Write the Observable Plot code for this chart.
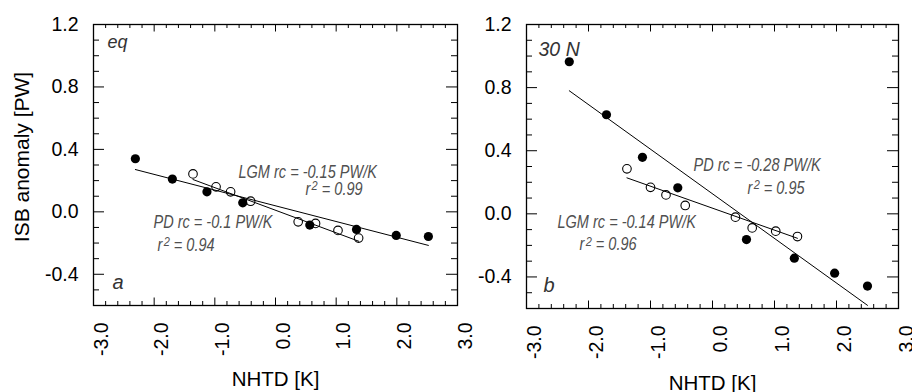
<!DOCTYPE html>
<html><head><meta charset="utf-8">
<script src="https://cdn.jsdelivr.net/npm/d3@7"></script>
<script src="https://cdn.jsdelivr.net/npm/@observablehq/plot@0.6"></script>
<style>
body{margin:0;background:#fff;}
#wrap{position:relative;width:912px;height:392px;overflow:hidden;background:#fff;}
#wrap svg{position:absolute;top:0;overflow:visible;background:transparent !important;}
</style></head><body><div id="wrap"></div>
<script>
// ---- tick values & labels ----
const xTicks = [-3, -2, -1, 0, 1, 2, 3];
const xTickLabels = ["-3.0", "-2.0", "-1.0", "0.0", "1.0", "2.0", "3.0"];
const yTicks = [-0.4, 0.0, 0.4, 0.8, 1.2];
const yTickLabels = ["-0.4", "0.0", "0.4", "0.8", "1.2"];

// ---- panel a: eq ----
const eqPDx  = [-2.31, -1.70, -1.13, -0.54, 0.565, 1.335, 1.99, 2.52];
const eqPDy  = [0.34, 0.21, 0.128, 0.058, -0.085, -0.113, -0.151, -0.158];
const eqLGMx = [-1.36, -0.98, -0.74, -0.41, 0.374, 0.66, 1.03, 1.37];
const eqLGMy = [0.243, 0.16, 0.128, 0.068, -0.064, -0.074, -0.119, -0.168];
const eqPDfitX  = [-2.31, 2.52], eqPDfitY  = [0.271, -0.215];
const eqLGMfitX = [-1.36, 1.37], eqLGMfitY = [0.207, -0.188];

// ---- panel b: 30 N ----
const nPDx  = [-2.31, -1.71, -1.13, -0.56, 0.548, 1.32, 1.97, 2.50];
const nPDy  = [0.964, 0.628, 0.358, 0.165, -0.163, -0.281, -0.376, -0.458];
const nLGMx = [-1.38, -1.00, -0.75, -0.44, 0.37, 0.64, 1.02, 1.37];
const nLGMy = [0.285, 0.168, 0.12, 0.053, -0.021, -0.089, -0.11, -0.144];
const nPDfitX  = [-2.31, 2.50], nPDfitY  = [0.78, -0.58];
const nLGMfitX = [-1.38, 1.37], nLGMfitY = [0.228, -0.155];

const rows = (xs, ys) => xs.map((x, i) => ({x, y: ys[i]}));
const xMinor = d3.range(-3, 3.001, 0.2).map(v => +v.toFixed(2)).filter(v => Math.abs(v - Math.round(v)) > 1e-6);
const yMinor = d3.range(-0.6, 1.2001, 0.1).map(v => +v.toFixed(2)).filter(v => !yTicks.some(t => Math.abs(t - v) < 1e-6));

const SANS = "'Liberation Sans', Arial, sans-serif";

function note(text, x, y, opts = {}) {
  return Plot.text([text], {x, y, text: d => d, textAnchor: "start", lineAnchor: "bottom",
    fontStyle: "italic", fontFamily: SANS, fontSize: 17.5, fill: "#505050", ...opts});
}

function condense(svg) {
  // narrow italic annotation text (condensed oblique look) and real superscripts
  svg.querySelectorAll("g[font-size='17.5'] text").forEach(t => {
    t.setAttribute("transform", (t.getAttribute("transform") || "") + " scale(0.83,1)");
    const s = t.textContent;
    if (s.startsWith("r² ")) {
      t.textContent = "";
      const ns = "http://www.w3.org/2000/svg";
      const a = document.createElementNS(ns, "tspan"); a.textContent = "r";
      const b = document.createElementNS(ns, "tspan"); b.textContent = "2";
      b.setAttribute("dy", "-0.36em"); b.setAttribute("font-size", "0.76em"); b.setAttribute("dx", "0.12em");
      const c = document.createElementNS(ns, "tspan"); c.textContent = " " + s.slice(3);
      c.setAttribute("dy", "0.274em");
      t.append(a, b, c);
    }
  });
}

function panel({left, width, mL, mR, mB, pd, lgm, pdFit, lgmFit, notes, yTitle, titleDy}) {
  const H = 392 - 24 - mB, W = width - mL - mR;
  const marks = [
    Plot.tickX(xMinor, {x: d => d, insetTop: H - 4, stroke: "#000"}),
    Plot.tickX(xMinor, {x: d => d, insetBottom: H - 4, stroke: "#000"}),
    Plot.tickX(xTicks, {x: d => d, insetTop: H - 7.5, stroke: "#000"}),
    Plot.tickX(xTicks, {x: d => d, insetBottom: H - 7.5, stroke: "#000"}),
    Plot.tickY(yMinor, {y: d => d, insetRight: W - 6, stroke: "#000"}),
    Plot.tickY(yMinor, {y: d => d, insetLeft: W - 6, stroke: "#000"}),
    Plot.tickY(yTicks, {y: d => d, insetRight: W - 11, stroke: "#000"}),
    Plot.tickY(yTicks, {y: d => d, insetLeft: W - 11, stroke: "#000"}),
    Plot.frame({stroke: "#000", strokeWidth: 1.3}),
    Plot.line(pdFit, {x: "x", y: "y", stroke: "#000", strokeWidth: 1}),
    Plot.line(lgmFit, {x: "x", y: "y", stroke: "#000", strokeWidth: 1}),
    Plot.dot(pd, {x: "x", y: "y", r: 4.6, fill: "#000", stroke: "none"}),
    Plot.dot(lgm, {x: "x", y: "y", r: 4.3, fill: "none", stroke: "#000", strokeWidth: 1.1}),
    Plot.text(yTicks, {y: d => d, text: (d, i) => yTickLabels[i], frameAnchor: "left", textAnchor: "end",
      lineAnchor: "middle", dx: -15, fontSize: 19.5, fontFamily: SANS, fill: "#000"}),
    Plot.text(xTicks, {x: d => d, text: (d, i) => xTickLabels[i], frameAnchor: "bottom", rotate: -90,
      textAnchor: "end", lineAnchor: "middle", dx: 8, dy: 17, fontSize: 19.5, fontFamily: SANS, fill: "#000"}),
    Plot.text(["NHTD [K]"], {text: d => d, frameAnchor: "bottom", lineAnchor: "bottom", dy: titleDy,
      fontSize: 20.5, fontFamily: SANS, fill: "#000"}),
    ...notes
  ];
  if (yTitle) marks.push(Plot.text([yTitle], {text: d => d, frameAnchor: "left", rotate: -90,
    textAnchor: "middle", lineAnchor: "bottom", dx: -64.5, dy: -8, fontSize: 21, fontFamily: SANS, fill: "#000"}));
  const svg = Plot.plot({
    width, height: 392, marginTop: 24, marginLeft: mL, marginRight: mR, marginBottom: mB,
    x: {domain: [-3, 3], axis: null},
    y: {domain: [-0.6, 1.2], axis: null},
    style: {background: "transparent", overflow: "visible"},
    marks
  });
  condense(svg);
  svg.style.left = left + "px";
  document.getElementById("wrap").appendChild(svg);
}

panel({
  left: 0, width: 470, mL: 93, mR: 13, mB: 87, titleDy: 80,
  pd: rows(eqPDx, eqPDy), lgm: rows(eqLGMx, eqLGMy),
  pdFit: rows(eqPDfitX, eqPDfitY), lgmFit: rows(eqLGMfitX, eqLGMfitY),
  yTitle: "ISB anomaly [PW]",
  notes: [
    note("eq", -2.77, 1.048, {fontSize: 18, fill: "#333"}),
    note("LGM rc = -0.15 PW/K", -0.61, 0.216),
    note("r² = 0.99", 0.494, 0.11),
    note("PD rc = -0.1 PW/K", -2.011, -0.104),
    note("r² = 0.94", -1.945, -0.252),
    note("a", -2.687, -0.495, {fontSize: 20, fill: "#333"})
  ]
});

panel({
  left: 455, width: 457, mL: 71, mR: 14, mB: 84, titleDy: 81,
  pd: rows(nPDx, nPDy), lgm: rows(nLGMx, nLGMy),
  pdFit: rows(nPDfitX, nPDfitY), lgmFit: rows(nLGMfitX, nLGMfitY),
  yTitle: null,
  notes: [
    note("30 N", -2.806, 1.0, {fontSize: 19.5, fill: "#333"}),
    note("PD rc = -0.28 PW/K", -0.306, 0.274),
    note("r² = 0.95", 0.565, 0.128),
    note("LGM rc = -0.14 PW/K", -2.5, -0.087),
    note("r² = 0.96", -2.145, -0.232),
    note("b", -2.726, -0.498, {fontSize: 20, fill: "#333"})
  ]
});
</script>
</body></html>
